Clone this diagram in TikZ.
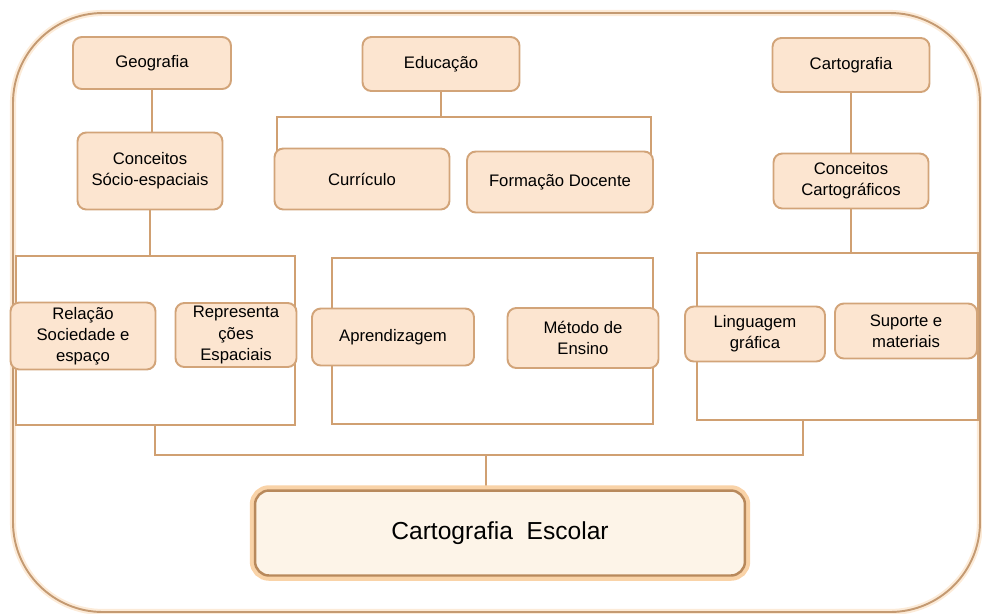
\documentclass[tikz,border=0pt]{standalone}
\usepackage{fontspec}
\setmainfont{Liberation Sans}
\usepackage{tikz}
\usetikzlibrary{calc,backgrounds}

\definecolor{frameline}{HTML}{C49A72}
\definecolor{frameglow}{HTML}{FCEBD8}
\definecolor{linkcol}{HTML}{D0A072}
\definecolor{boxline}{HTML}{D2A479}
\definecolor{boxfill}{HTML}{FCE5D0}
\definecolor{escline}{HTML}{B8895C}
\definecolor{escfill}{HTML}{FDF4E8}
\definecolor{escglow}{HTML}{F9D3A8}

\begin{document}
\begin{tikzpicture}[x=0.02cm,y=-0.02cm,
  box/.style={draw=boxline,fill=boxfill,rounded corners=5pt,line width=1.1pt,
    align=center,inner sep=1pt,font=\fontsize{9.5}{12}\selectfont},
  escolar/.style={draw=escline,fill=escfill,rounded corners=8pt,line width=1.4pt,
    preaction={draw=escglow,line width=6pt},font=\fontsize{14}{16}\selectfont},
  link/.style={linkcol,line width=1.2pt}]

\useasboundingbox (0,0) rectangle (982,613);

% Top row
\node[box,minimum width=3.16cm,minimum height=1.04cm] (geo) at (152,63) {Geografia};
\node[box,minimum width=3.14cm,minimum height=1.08cm] (edu) at (441,64) {Educação};
\node[box,minimum width=3.14cm,minimum height=1.08cm] (cart) at (851,65) {Cartografia};

% Second row
\node[box,minimum width=2.9cm,minimum height=1.54cm] (concsoc) at (150,171) {Conceitos\\Sócio-espaciais};
\node[box,minimum width=3.5cm,minimum height=1.22cm] (curr) at (362,179) {Currículo};
\node[box,minimum width=3.72cm,minimum height=1.22cm] (form) at (560,182) {Formação Docente};
\node[box,minimum width=3.1cm,minimum height=1.1cm] (concart) at (851,181) {Conceitos\\Cartográficos};

% Third row
\node[box,minimum width=2.9cm,minimum height=1.34cm] (rel) at (83,336) {Relação\\Sociedade e\\espaço};
\node[box,minimum width=2.42cm,minimum height=1.28cm] (repr) at (236,335) {Representa\\ções\\Espaciais};
\node[box,minimum width=3.24cm,minimum height=1.14cm] (apr) at (393,337) {Aprendizagem};
\node[box,minimum width=3.02cm,minimum height=1.2cm] (met) at (583,338) {Método de\\Ensino};
\node[box,minimum width=2.8cm,minimum height=1.1cm] (ling) at (755,334) {Linguagem\\gráfica};
\node[box,minimum width=2.84cm,minimum height=1.1cm] (sup) at (906,331) {Suporte e\\materiais};

% Result
\node[escolar,minimum width=9.8cm,minimum height=1.7cm] (esc) at (500,533) {Cartografia\ \ Escolar};

% Bracket corners
\coordinate (geoNW) at (16,256);
\coordinate (geoSE) at (295,425);
\coordinate (eduNW) at (332,258);
\coordinate (eduSE) at (653,424);
\coordinate (cartNW) at (697,253);
\coordinate (cartSE) at (978,420);
\coordinate (edujoin) at (441,117);
\coordinate (join) at (486,455);

\begin{pgfonlayer}{background}
% Outer frame
\draw[frameglow,line width=3.5pt,rounded corners=1.8cm] (13,13) rectangle (980,612);
\draw[frameline,line width=1.1pt,rounded corners=1.8cm] (13,13) rectangle (980,612);

% Geografia branch
\draw[link] (geo) -- (geo |- concsoc);
\draw[link] (concsoc) -- (concsoc |- geoNW);
\draw[link] (geoNW) rectangle (geoSE);

% Educação branch
\draw[link] (edu) -- (edujoin);
\draw[link] ($(curr.west)+(3,0)$) |- (edujoin) -| ($(form.east)+(-3,0)$);
\draw[link] ($(curr)+(3,0)$) -- ($(curr)+(3,0)$ |- eduNW);
\draw[link] ($(form)+(18,0)$) -- ($(form)+(18,0)$ |- eduNW);
\draw[link] (eduNW) rectangle (eduSE);

% Cartografia branch
\draw[link] (cart) -- (concart);
\draw[link] (concart) -- (concart |- cartNW);
\draw[link] (cartNW) rectangle (cartSE);

% Join to Cartografia Escolar
\draw[link] (155,425) |- (join) -| (803,420);
\draw[link] (join) -- (join |- esc);
\end{pgfonlayer}

\end{tikzpicture}
\end{document}
